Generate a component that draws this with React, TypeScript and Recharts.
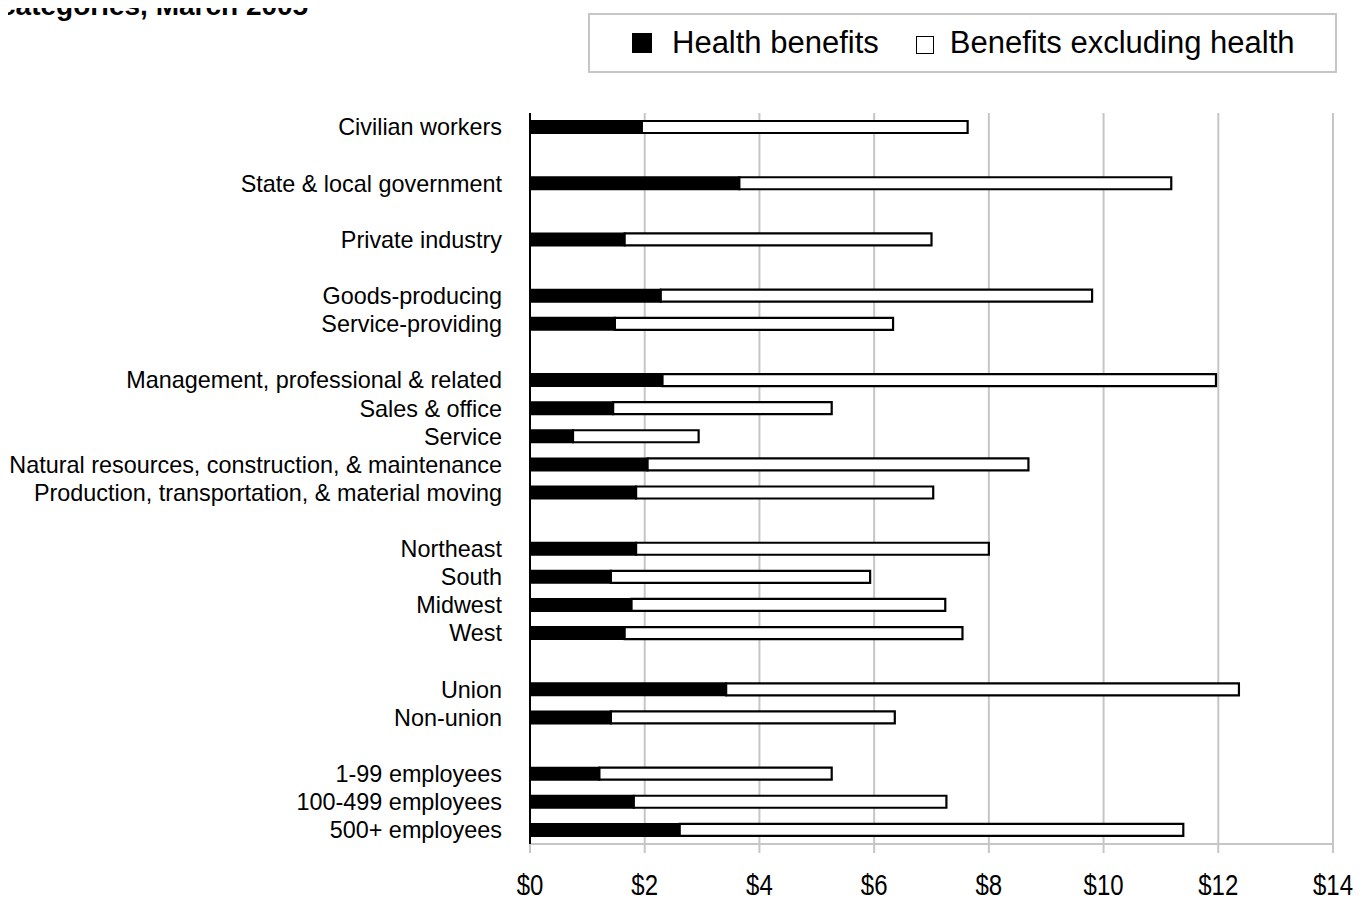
import React from "react";
import { BarChart, Bar, XAxis, YAxis, CartesianGrid } from "recharts";

const categories: string[] = [
  "Civilian workers",
  "",
  "State & local government",
  "",
  "Private industry",
  "",
  "Goods-producing",
  "Service-providing",
  "",
  "Management, professional & related",
  "Sales & office",
  "Service",
  "Natural resources, construction, & maintenance",
  "Production, transportation, &  material moving",
  "",
  "Northeast",
  "South",
  "Midwest",
  "West",
  "",
  "Union",
  "Non-union",
  "",
  "1-99 employees",
  "100-499 employees",
  "500+ employees",
];

// Health benefits ($ per hour worked)
const healthBenefits: (number | null)[] = [
  1.95, null, 3.65, null, 1.65, null, 2.28, 1.48, null,
  2.31, 1.45, 0.75, 2.05, 1.85, null,
  1.85, 1.41, 1.77, 1.65, null,
  3.42, 1.41, null,
  1.21, 1.81, 2.61,
];

// Benefits excluding health ($ per hour worked)
const otherBenefits: (number | null)[] = [
  5.68, null, 7.53, null, 5.35, null, 7.52, 4.85, null,
  9.65, 3.81, 2.19, 6.64, 5.18, null,
  6.15, 4.52, 5.47, 5.89, null,
  8.94, 4.95, null,
  4.05, 5.45, 8.78,
];

const xTicks: number[] = [0, 2, 4, 6, 8, 10, 12, 14];

const seriesNames = ["Health benefits", "Benefits excluding health"];

const data = categories.map((name, i) => ({
  name,
  health: healthBenefits[i],
  other: otherBenefits[i],
}));

const GRID = "#c6c6c6";
const FONT = "'Liberation Sans', Arial, sans-serif";

const LegendBox = () => (
  <div
    style={{
      position: "absolute",
      left: 588,
      top: 13,
      boxSizing: "border-box",
      width: 749,
      height: 60,
      border: `2px solid ${GRID}`,
      background: "#fff",
      display: "flex",
      alignItems: "center",
      paddingLeft: 42,
      fontFamily: FONT,
      fontSize: 31,
      color: "#000",
      whiteSpace: "nowrap",
      zIndex: 2,
    }}
  >
    <span
      style={{
        display: "inline-block",
        width: 20,
        height: 20,
        background: "#000",
        marginRight: 20,
      }}
    />
    <span style={{ marginRight: 37 }}>{seriesNames[0]}</span>
    <span
      style={{
        display: "inline-block",
        boxSizing: "border-box",
        width: 18,
        height: 18,
        border: "1.5px solid #000",
        background: "#fff",
        marginRight: 16,
        marginTop: 4,
      }}
    />
    <span>{seriesNames[1]}</span>
  </div>
);

const XTick = (props: any) => {
  const { x, y, payload } = props;
  return (
    <text
      transform={`translate(${x},${y + 32}) scale(0.8,1)`}
      textAnchor="middle"
      fill="#000"
      fontSize={30}
      fontFamily={FONT}
    >
      {`$${payload.value}`}
    </text>
  );
};

export default function App() {
  return (
    <div style={{ position: "relative", width: 1366, height: 903, margin: -8, background: "#fff", overflow: "hidden" }}>
      <BarChart
        width={1366}
        height={903}
        data={data}
        layout="vertical"
        margin={{ top: 113, right: 33, bottom: 0, left: 0 }}
        barSize={12}
        style={{ position: "absolute", left: 0, top: 0 }}
      >
        <CartesianGrid horizontal={false} vertical={true} stroke={GRID} strokeWidth={2} />
        <XAxis
          type="number"
          domain={[0, 14]}
          ticks={xTicks}
          interval={0}
          axisLine={{ stroke: GRID, strokeWidth: 2 }}
          tickLine={{ stroke: GRID, strokeWidth: 2 }}
          tickSize={9}
          tickMargin={10}
          height={59}
          tick={<XTick />}
        />
        <XAxis
          xAxisId="top"
          orientation="top"
          type="number"
          domain={[0, 14]}
          tick={false}
          tickLine={false}
          height={0}
          axisLine={{ stroke: GRID, strokeWidth: 2 }}
        />
        <YAxis
          type="category"
          dataKey="name"
          width={530}
          interval={0}
          axisLine={{ stroke: "#000", strokeWidth: 2 }}
          tickLine={false}
          tickSize={0}
          tickMargin={28}
          tick={{ fill: "#000", fontSize: 23.4, fontFamily: FONT }}
        />
        <Bar dataKey="health" name={seriesNames[0]} stackId="a" fill="#000" stroke="#000" strokeWidth={2} isAnimationActive={false} />
        <Bar dataKey="other" name={seriesNames[1]} stackId="a" fill="#fff" stroke="#000" strokeWidth={2.2} isAnimationActive={false} />
      </BarChart>
      <LegendBox />
      <div
        style={{
          position: "absolute",
          left: 0,
          top: -10,
          fontFamily: FONT,
          fontWeight: "bold",
          fontSize: 28,
          whiteSpace: "nowrap",
          color: "#000",
          zIndex: 2,
        }}
      >
        categories, March 2005
      </div>
    </div>
  );
}
